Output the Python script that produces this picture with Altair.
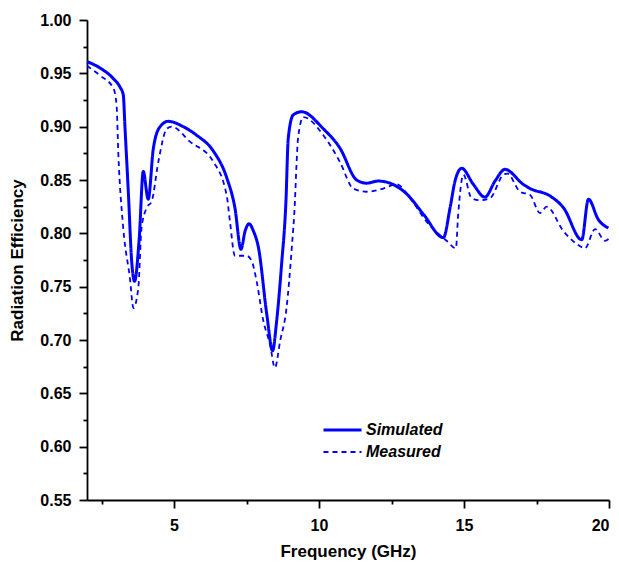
import altair as alt
import pandas as pd

# Simulated radiation efficiency (frequency in GHz, efficiency)
sim_freq = [2.0, 2.45, 2.91, 3.14, 3.25, 3.31, 3.43, 3.54, 3.64, 3.80, 3.94, 4.11,
            4.29, 4.52, 4.80, 5.32, 5.78, 6.36, 6.82, 7.10, 7.31, 7.45, 7.59, 7.74,
            7.91, 8.20, 8.40, 8.54, 8.71, 8.86, 8.94, 9.11, 9.40, 10.15, 10.72,
            11.30, 11.64, 12.04, 12.45, 13.02, 13.60, 14.29, 14.52, 14.69, 14.92,
            15.32, 15.72, 16.07, 16.41, 17.04, 17.28, 17.97, 18.43, 19.06, 19.29,
            19.63, 19.98]
sim_eff = [0.961, 0.955, 0.945, 0.937, 0.930, 0.899, 0.836, 0.774, 0.755, 0.795, 0.858,
           0.832, 0.880, 0.900, 0.905, 0.900, 0.892, 0.877, 0.852, 0.824, 0.785, 0.802,
           0.809, 0.802, 0.787, 0.724, 0.690, 0.718, 0.771, 0.830, 0.889, 0.911, 0.914,
           0.898, 0.880, 0.850, 0.847, 0.849, 0.847, 0.837, 0.818, 0.796, 0.824, 0.849,
           0.861, 0.846, 0.834, 0.849, 0.860, 0.846, 0.842, 0.835, 0.824, 0.794, 0.832,
           0.813, 0.805]

# Measured radiation efficiency
meas_freq = [2.0, 2.45, 2.91, 3.02, 3.08, 3.25, 3.48, 3.60, 3.77, 3.88, 4.06, 4.23,
             4.46, 4.75, 4.92, 5.55, 6.36, 6.82, 6.93, 7.10, 7.50, 7.68, 7.85, 8.08,
             8.31, 8.48, 8.66, 8.88, 9.06, 9.17, 9.22, 9.28, 9.46, 10.15, 10.72,
             11.18, 11.64, 12.22, 12.68, 13.14, 13.71, 14.40, 14.72, 14.80, 14.98,
             15.26, 15.55, 15.90, 16.36, 16.50, 16.93, 17.28, 17.62, 17.85, 18.43,
             18.89, 19.17, 19.52, 19.86, 20.0]
meas_eff = [0.957, 0.948, 0.936, 0.920, 0.875, 0.805, 0.758, 0.730, 0.749, 0.805,
            0.824, 0.830, 0.867, 0.898, 0.900, 0.886, 0.867, 0.835, 0.811, 0.779,
            0.779, 0.774, 0.755, 0.718, 0.696, 0.674, 0.699, 0.730, 0.786, 0.830,
            0.862, 0.890, 0.909, 0.892, 0.867, 0.842, 0.839, 0.842, 0.846, 0.833,
            0.811, 0.793, 0.786, 0.818, 0.855, 0.833, 0.831, 0.833, 0.855, 0.856,
            0.839, 0.836, 0.819, 0.825, 0.802, 0.790, 0.786, 0.804, 0.793, 0.795]

series_names = ["Simulated", "Measured"]
x_ticks = [2.5, 5, 7.5, 10, 12.5, 15, 17.5, 20]
y_ticks = [round(0.55 + 0.025 * i, 3) for i in range(19)]

df = pd.concat([
    pd.DataFrame({"freq": sim_freq, "eff": sim_eff, "series": series_names[0]}),
    pd.DataFrame({"freq": meas_freq, "eff": meas_eff, "series": series_names[1]}),
])

FONT = "Liberation Sans"
BLUE = "#0000ff"

x_major_test = "indexof([5,10,15,20], datum.value) >= 0"
y_major_test = "abs(round(datum.value*20) - datum.value*20) < 0.001"

x_axis = alt.Axis(
    values=x_ticks,
    title="Frequency (GHz)",
    labelExpr=f"{x_major_test} ? datum.label : ''",
    tickSize={"condition": {"test": x_major_test, "value": 8}, "value": 4},
    labelPadding=9,
    labelOverlap=False,
    labelFont=FONT, labelFontSize=16, labelFontWeight="bold", labelColor="black",
    titleFont=FONT, titleFontSize=17, titleFontWeight="bold", titleColor="black",
    titleY=56, titleBaseline="alphabetic",
    grid=False, domainColor="black", domainWidth=1.8, tickColor="black", tickWidth=1.8,
)

y_axis = alt.Axis(
    values=y_ticks,
    format=".2f",
    title="Radiation Efficiency",
    labelExpr=f"{y_major_test} ? datum.label : ''",
    tickSize={"condition": {"test": y_major_test, "value": 8}, "value": 4},
    labelPadding=8,
    labelOverlap=False,
    labelFont=FONT, labelFontSize=16, labelFontWeight="bold", labelColor="black",
    titleFont=FONT, titleFontSize=17, titleFontWeight="bold", titleColor="black",
    titleX=-70, titleY=240, titleAngle=270, titleAlign="center", titleBaseline="middle",
    grid=False, domainColor="black", domainWidth=1.8, tickColor="black", tickWidth=1.8,
)

legend = alt.Legend(
    title=None,
    orient="none",
    legendX=235,
    legendY=399,
    symbolType="stroke",
    symbolSize=1444,
    symbolStrokeColor=BLUE,
    clipHeight=22,
    rowPadding=0,
    padding=0,
    labelOffset=3,
    labelFont=FONT, labelFontSize=16, labelFontStyle="italic", labelFontWeight="bold",
    labelColor="black",
)

chart = alt.Chart(df).mark_line(color=BLUE, interpolate="monotone").encode(
    x=alt.X("freq:Q", scale=alt.Scale(domain=[2, 20], nice=False, zero=False), axis=x_axis),
    y=alt.Y("eff:Q", scale=alt.Scale(domain=[0.55, 1.0], nice=False, zero=False), axis=y_axis),
    strokeDash=alt.StrokeDash(
        "series:N",
        scale=alt.Scale(domain=series_names, range=[[1, 0], [5, 4]]),
        legend=legend,
    ),
    strokeWidth=alt.StrokeWidth(
        "series:N",
        scale=alt.Scale(domain=series_names, range=[3, 1.8]),
        legend=legend,
    ),
    detail="series:N",
).properties(
    width=522,
    height=480,
    autosize=alt.AutoSizeParams(type="none"),
    padding={"left": 87, "top": 20, "right": 10, "bottom": 64},
).configure_view(stroke=None)

chart.save("out.html", embed_options={"renderer": "svg", "actions": False})
